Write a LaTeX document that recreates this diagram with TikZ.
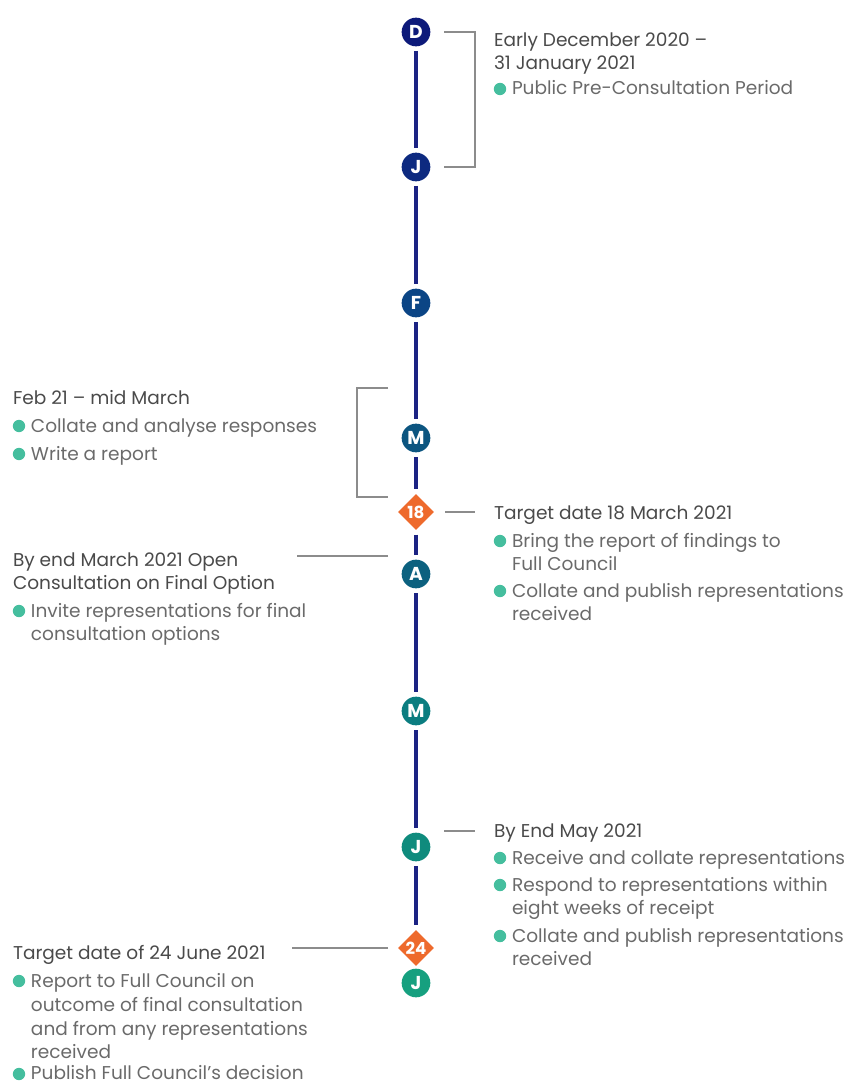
\documentclass[tikz,border=0pt]{standalone}
\usepackage{fontspec}
\setmainfont{Poppins}
\usetikzlibrary{shapes.geometric}
\definecolor{navyline}{HTML}{1B2383}
\definecolor{cD}{HTML}{0D1A7A}
\definecolor{cJa}{HTML}{0D2A80}
\definecolor{cF}{HTML}{0B4585}
\definecolor{cMa}{HTML}{0C5580}
\definecolor{cA}{HTML}{0C617F}
\definecolor{cMb}{HTML}{0B7D80}
\definecolor{cJb}{HTML}{0F8B7D}
\definecolor{cJc}{HTML}{16A07F}
\definecolor{orng}{HTML}{EE6A2C}
\definecolor{headc}{HTML}{4A4A4A}
\definecolor{bodyc}{HTML}{6A6A6A}
\definecolor{bulc}{HTML}{45BE9E}
\definecolor{connc}{HTML}{8C8C8C}
\begin{document}
\begin{tikzpicture}[x=0.75pt,y=-0.75pt,
  every node/.style={inner sep=0pt,outer sep=0pt},
  month/.style={circle,minimum size=21.5pt,fill=#1,text=white,outer sep=3.5pt,
    font=\bfseries\fontsize{14pt}{14pt}\selectfont},
  target/.style={diamond,minimum size=29pt,fill=orng,text=white,outer sep=2.5pt,
    font=\bfseries\fontsize{12.5pt}{12.5pt}\selectfont},
  tline/.style={draw=navyline,line width=2.6pt},
  conn/.style={draw=connc,line width=1.3pt},
  head/.style={anchor=base west,text=headc,font=\fontsize{13.9pt}{16pt}\selectfont},
  body/.style={anchor=base west,text=bodyc,font=\fontsize{13.9pt}{16pt}\selectfont},
  bul/.style={circle,fill=bulc,minimum size=9.3pt}
]
\useasboundingbox (0,0) rectangle (853,1084);

% timeline markers
\node[month=cD]  (D)  at (416,32)  {D};
\node[month=cJa] (J1) at (416,167) {J};
\node[month=cF]  (F)  at (416,303) {F};
\node[month=cMa] (M1) at (416,438) {M};
\node[target]    (T18) at (416,512) {18};
\node[month=cA]  (A)  at (416,574) {A};
\node[month=cMb] (M2) at (416,711) {M};
\node[month=cJb] (J2) at (416,847) {J};
\node[target]    (T24) at (416,948) {24};
\node[month=cJc] (J3) at (416,983) {J};

% timeline segments
\draw[tline] (D) -- (J1);
\draw[tline] (J1) -- (F);
\draw[tline] (F) -- (M1);
\draw[tline] (M1) -- (T18);
\draw[tline] (T18) -- (A);
\draw[tline] (A) -- (M2);
\draw[tline] (M2) -- (J2);
\draw[tline] (J2) -- (T24);

% brackets and connectors
\coordinate (b1a) at (444,32);
\coordinate (b1b) at (444,167);
\draw[conn] (b1a) -- ++(31,0) |- (b1b);
\coordinate (b2a) at (388,388);
\coordinate (b2b) at (388,497);
\draw[conn] (b2a) -- ++(-31,0) |- (b2b);
\coordinate (c18a) at (445,512);
\coordinate (c18b) at (475,512);
\draw[conn] (c18a) -- (c18b);
\coordinate (cAa) at (388,556);
\coordinate (cAb) at (297,556);
\draw[conn] (cAa) -- (cAb);
\coordinate (cJa) at (444,831);
\coordinate (cJb) at (475,831);
\draw[conn] (cJa) -- (cJb);
\coordinate (c24a) at (388,948);
\coordinate (c24b) at (292,948);
\draw[conn] (c24a) -- (c24b);

% block 1
\node[head] (h1a) at (494,47) {Early December 2020 –};
\node[head] (h1b) at (494,70) {31 January 2021};
\node[bul]  (p1)  at (500,89) {};
\node[body] (t1)  at (512,95) {Public Pre-Consultation Period};

% block 2
\node[head] (h2)  at (13,404) {Feb 21 – mid March};
\node[bul]  (p2a) at (19,426) {};
\node[body] (t2a) at (31,432) {Collate and analyse responses};
\node[bul]  (p2b) at (19,454) {};
\node[body] (t2b) at (31,460) {Write a report};

% block 3
\node[head] (h3)  at (494,519) {Target date 18 March 2021};
\node[bul]  (p3a) at (500,541) {};
\node[body] (t3a) at (512,547) {Bring the report of findings to};
\node[body] (t3b) at (512,570) {Full Council};
\node[bul]  (p3b) at (500,591) {};
\node[body] (t3c) at (512,597) {Collate and publish representations};
\node[body] (t3d) at (512,620) {received};

% block 4
\node[head] (h4a) at (13,566) {By end March 2021 Open};
\node[head] (h4b) at (13,589) {Consultation on Final Option};
\node[bul]  (p4)  at (19,611) {};
\node[body] (t4a) at (31,617) {Invite representations for final};
\node[body] (t4b) at (31,640) {consultation options};

% block 5
\node[head] (h5)  at (494,837) {By End May 2021};
\node[bul]  (p5a) at (500,858) {};
\node[body] (t5a) at (512,864) {Receive and collate representations};
\node[bul]  (p5b) at (500,885) {};
\node[body] (t5b) at (512,891) {Respond to representations within};
\node[body] (t5c) at (512,914) {eight weeks of receipt};
\node[bul]  (p5c) at (500,936) {};
\node[body] (t5d) at (512,942) {Collate and publish representations};
\node[body] (t5e) at (512,965) {received};

% block 6
\node[head] (h6)  at (13,959) {Target date of 24 June 2021};
\node[bul]  (p6a) at (19,981) {};
\node[body] (t6a) at (31,987) {Report to Full Council on};
\node[body] (t6b) at (31,1011) {outcome of final consultation};
\node[body] (t6c) at (31,1035) {and from any representations};
\node[body] (t6d) at (31,1058) {received};
\node[bul]  (p6b) at (19,1074) {};
\node[body] (t6e) at (31,1079) {Publish Full Council’s decision};
\end{tikzpicture}
\end{document}
